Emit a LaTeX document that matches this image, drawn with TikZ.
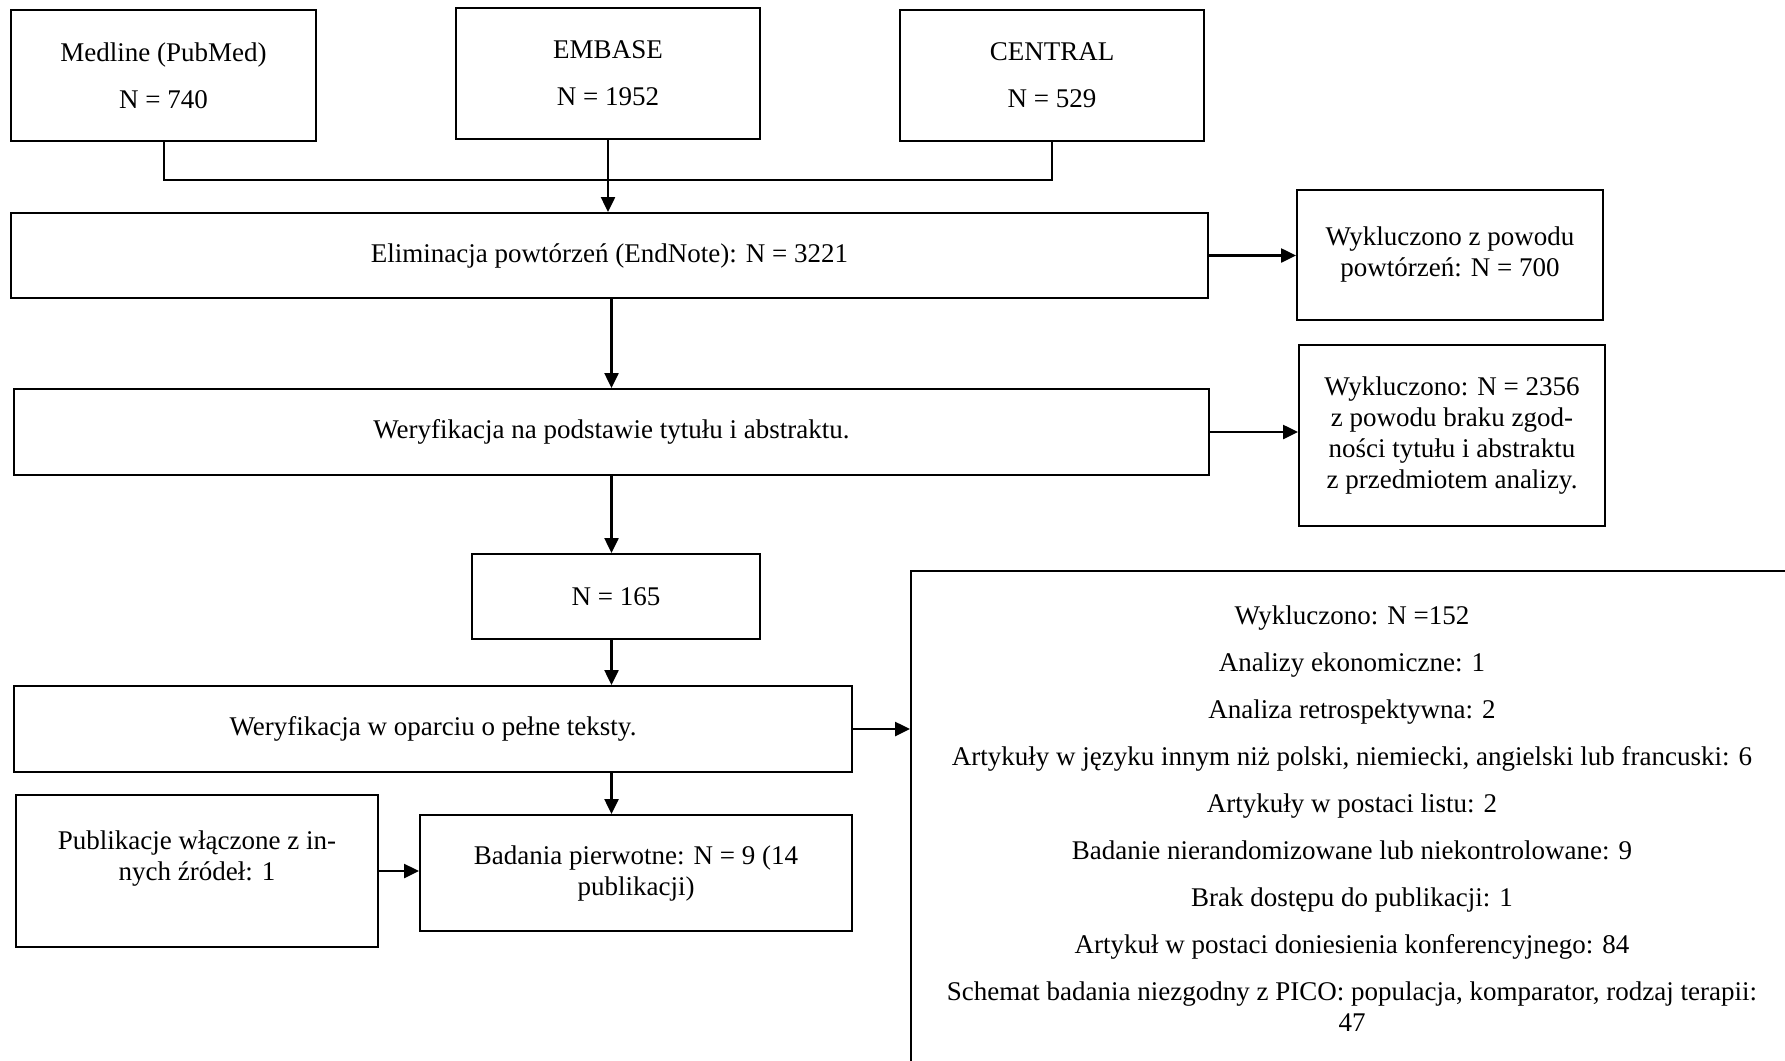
\documentclass[tikz,border=0pt]{standalone}
\usepackage{fontspec}
\setmainfont{Liberation Serif}
\usetikzlibrary{arrows.meta}

\begin{document}
\begin{tikzpicture}[x=1pt,y=-1pt,
    box/.style={draw, line width=2pt, align=center, inner sep=0pt,
        font=\fontsize{27}{31}\selectfont},
    plainText/.style={align=center, inner sep=0pt,
        font=\fontsize{27}{31}\selectfont},
    flow/.style={-{Triangle[length=15pt,width=14pt]}, line width=2.5pt},
]

% page size
\useasboundingbox (0,0) rectangle (1785,1060);

% gap between the lines of one box
\def\lineGap{16pt}

% data sources
\node[box, minimum width=305pt, minimum height=131pt] (medline) at (163.5,75.5)
    {Medline (PubMed)\\[\lineGap]N = 740};
\node[box, minimum width=304pt, minimum height=131pt] (embase) at (608,73.5)
    {EMBASE\\[\lineGap]N = 1952};
\node[box, minimum width=304pt, minimum height=131pt] (central) at (1052,75.5)
    {CENTRAL\\[\lineGap]N = 529};

% duplicates
\node[box, minimum width=1197pt, minimum height=85pt] (dedup) at (609.5,255.5)
    {Eliminacja powtórzeń (EndNote): N = 3221};
\node[box, minimum width=306pt, minimum height=130pt] (dupExcl) at (1450,255)
    {Wykluczono z powodu\\powtórzeń: N = 700};

% title and abstract
\node[box, minimum width=1195pt, minimum height=86pt] (screen) at (611.5,432)
    {Weryfikacja na podstawie tytułu i abstraktu.};
\node[box, minimum width=306pt, minimum height=181pt] (titleExcl) at (1452,435.5)
    {Wykluczono: N = 2356\\z powodu braku zgod-\\ności tytułu i abstraktu\\z przedmiotem analizy.};

% full texts
\node[box, minimum width=288pt, minimum height=85pt] (n165) at (616,596.5)
    {N = 165};
\node[box, minimum width=838pt, minimum height=86pt] (fulltext) at (433,729)
    {Weryfikacja w oparciu o pełne teksty.};

% included studies
\node[box, minimum width=362pt, minimum height=152pt] (other) at (197,871)
    {Publikacje włączone z in-\\nych źródeł: 1\\\mbox{}};
\node[box, minimum width=432pt, minimum height=116pt] (included) at (636,873)
    {Badania pierwotne: N = 9 (14\\publikacji)};

% reasons for exclusion (box runs past the page)
\node[box, minimum width=882pt, minimum height=560pt, anchor=north west] (reasons) at (910,570) {};
\node[plainText, anchor=north] (reasonsText) at ([yshift=-36pt]reasons.north)
    {Wykluczono: N =152\\[\lineGap]
     Analizy ekonomiczne: 1\\[\lineGap]
     Analiza retrospektywna: 2\\[\lineGap]
     Artykuły w języku innym niż polski, niemiecki, angielski lub francuski: 6\\[\lineGap]
     Artykuły w postaci listu: 2\\[\lineGap]
     Badanie nierandomizowane lub niekontrolowane: 9\\[\lineGap]
     Brak dostępu do publikacji: 1\\[\lineGap]
     Artykuł w postaci doniesienia konferencyjnego: 84\\[\lineGap]
     Schemat badania niezgodny z PICO: populacja, komparator, rodzaj terapii:\\47};

% connectors
\coordinate (sourcesJoin) at (embase.south |- 0,180);
\draw[line width=2pt] (medline.south) |- (sourcesJoin) -| (central.south);
\draw[flow] (embase.south) -- (embase.south |- dedup.north);
\draw[flow] (dedup.east) -- (dedup.east -| dupExcl.west);
\draw[flow] (dedup.south -| screen.north) -- (screen.north);
\draw[flow] (screen.east) -- (screen.east -| titleExcl.west);
\draw[flow] (screen.south) -- (screen.south |- n165.north);
\draw[flow] (screen.south |- n165.south) -- (screen.south |- fulltext.north);
\draw[flow] (fulltext.east) -- (fulltext.east -| reasons.west);
\draw[flow] (screen.south |- fulltext.south) -- (screen.south |- included.north);
\draw[flow] (other.east) -- (other.east -| included.west);

\end{tikzpicture}
\end{document}
